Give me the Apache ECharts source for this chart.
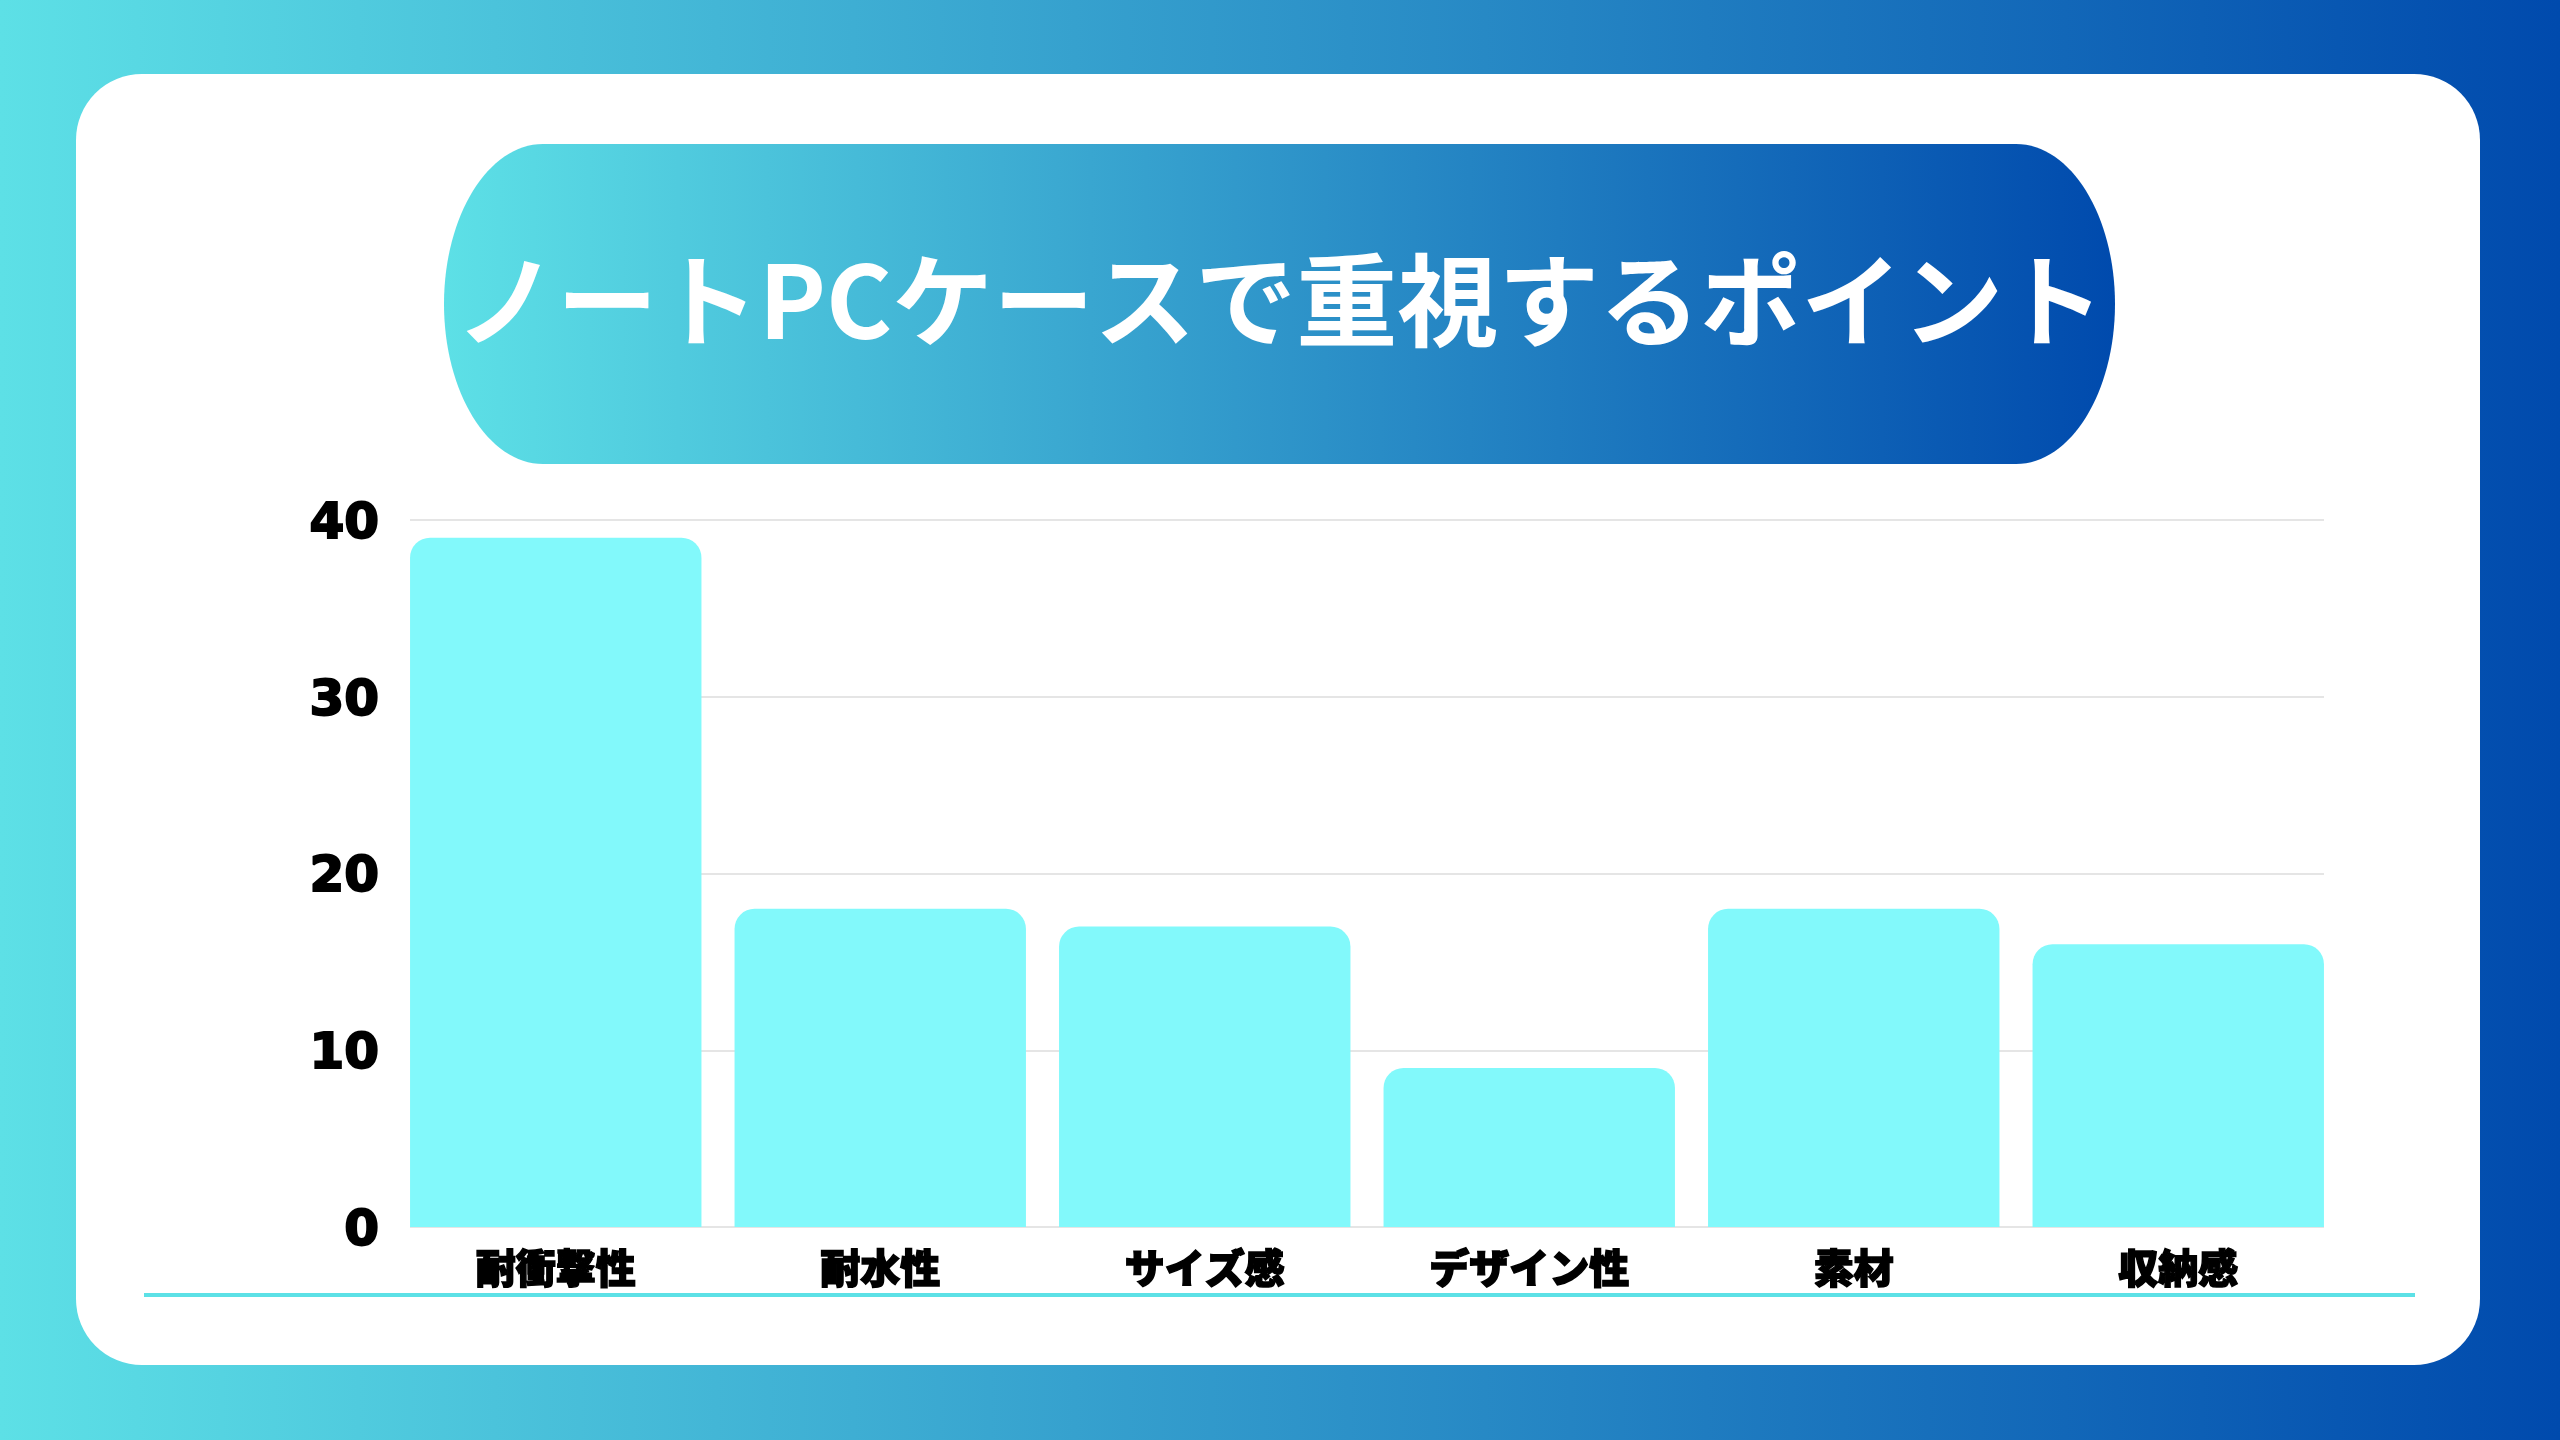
<!DOCTYPE html>
<html>
<head>
<meta charset="utf-8">
<style>html,body{margin:0;padding:0;width:2560px;height:1440px;overflow:hidden;}#c{width:2560px;height:1440px;}</style>
<script src="https://cdn.jsdelivr.net/npm/echarts@6/dist/echarts.min.js"></script>
</head>
<body>
<div id="c"></div>
<script>
const titleText = 'ノートPCケースで重視するポイント';
const categories = ['耐衝撃性', '耐水性', 'サイズ感', 'デザイン性', '素材', '収納感'];
const values = [39, 18, 17, 9, 18, 16];
const yTicks = [0, 10, 20, 30, 40];

const chart = echarts.init(document.getElementById('c'));
const hGrad = (a, b) => new echarts.graphic.LinearGradient(0, 0, 1, 0, [{offset: 0, color: a}, {offset: 1, color: b}]);
const pillGrad = () => new echarts.graphic.LinearGradient(444, 0, 2116, 0, [{offset: 0, color: '#5de0e6'}, {offset: 1, color: '#004aad'}], true);

chart.setOption({
  backgroundColor: hGrad('#5de0e6', '#004aad'),
  title: {
    text: titleText,
    left: 'center',
    top: 240,
    padding: 5,
    textStyle: {fontSize: 101, lineHeight: 112, color: '#ffffff', fontWeight: 'bold', fontFamily: 'Noto Sans CJK JP'}
  },
  graphic: [
    {type: 'rect', z: -3, shape: {x: 76, y: 74, width: 2404, height: 1291, r: 66}, style: {fill: '#ffffff'}},
    {type: 'ellipse', z: -2, shape: {cx: 543, cy: 304, rx: 99, ry: 160}, style: {fill: pillGrad()}},
    {type: 'ellipse', z: -2, shape: {cx: 2016, cy: 304, rx: 99, ry: 160}, style: {fill: pillGrad()}},
    {type: 'rect', z: -2, shape: {x: 543, y: 144, width: 1473, height: 320}, style: {fill: pillGrad()}},
    {type: 'line', z: -2, shape: {x1: 144, y1: 1295, x2: 2415, y2: 1295}, style: {stroke: '#5ce1e6', lineWidth: 4}}
  ],
  grid: [
    {left: 410, right: 236, top: 520, bottom: 213},
    {left: 393.5, right: 219.5, top: 520, bottom: 213}
  ],
  xAxis: [
    {gridIndex: 0, type: 'category', data: categories, show: false},
    {gridIndex: 1, type: 'category', data: categories,
      axisLine: {show: false}, axisTick: {show: false},
      axisLabel: {margin: 21, fontSize: 40, lineHeight: 40, color: '#000000', fontWeight: 900, fontFamily: 'Noto Sans CJK JP',
        textBorderColor: '#000000', textBorderWidth: 1.5}}
  ],
  yAxis: [
    {gridIndex: 0, type: 'value', min: yTicks[0], max: yTicks[yTicks.length - 1], interval: 10,
      axisLine: {show: false}, axisTick: {show: false},
      axisLabel: {margin: 31, fontSize: 50, lineHeight: 10, verticalAlign: 'top', color: '#000000', fontWeight: 'bold', fontFamily: 'DejaVu Sans',
        textBorderColor: '#000000', textBorderWidth: 2},
      splitLine: {lineStyle: {color: '#dddddd', width: 1.5}}},
    {gridIndex: 1, type: 'value', min: yTicks[0], max: yTicks[yTicks.length - 1], interval: 10, show: false, splitLine: {show: false}}
  ],
  series: [{
    type: 'bar', xAxisIndex: 1, yAxisIndex: 1, data: values,
    barCategoryGap: '10.2%',
    itemStyle: {color: '#82f9fb', borderRadius: [20, 20, 0, 0]},
    z: 3
  }]
});
</script>
</body>
</html>
